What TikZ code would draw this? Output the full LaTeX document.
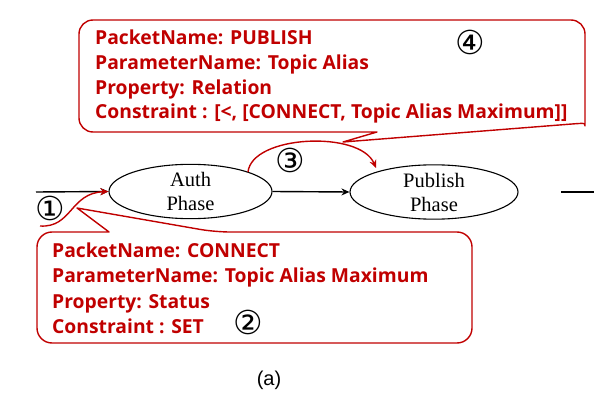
\documentclass[tikz,border=0pt]{standalone}
\usepackage{fontspec}
\setmainfont{Liberation Serif}
\newfontfamily\callfont{Open Sans}
\newfontfamily\circfont{DejaVu Sans}
\newfontfamily\capfont{Liberation Sans}
\usetikzlibrary{arrows.meta,shapes.geometric}
\definecolor{dred}{RGB}{192,0,0}
\begin{document}
\begin{tikzpicture}[x=1pt,y=-1pt,
  phase/.style={draw=black,line width=1.1pt,ellipse,minimum width=163pt,minimum height=53pt,inner sep=0pt,align=center,font=\fontsize{20.5}{24}\selectfont},
  ctext/.style={anchor=base west,inner sep=0pt,text=dred,font=\callfont\bfseries\fontsize{19.3}{22}\selectfont},
  circ/.style={inner sep=0pt,font=\circfont\fontsize{33}{33}\selectfont},
  callout/.style={draw=dred,line width=1.4pt,line join=round},
  redarrow/.style={draw=dred,line width=1.4pt,-{Stealth[length=8pt,width=7pt]}},
  blkarrow/.style={draw=black,line width=1.4pt,-{Stealth[length=8pt,width=7pt]}}
]
\useasboundingbox (0,0) rectangle (594,406);
% phases
\node[phase] (auth) at (190.5,191.5) {Auth\\Phase};
\node[phase,minimum width=168pt,minimum height=52pt] (pub) at (434,192) {Publish\\Phase};
\coordinate (lin) at (36,192);
\coordinate (rs) at (561,192);
\coordinate (re) at (594,192);
\draw[blkarrow] (lin) -- (auth.west);
\draw[blkarrow] (auth.east) -- (pub.west);
\draw[draw=black,line width=1.4pt] (rs) -- (re);
% top callout
\coordinate (ttip) at (343,142);
\draw[callout] (ttip) -- (377,132) [rounded corners=14pt] -- (79,132) -- (79,20) -- (585,20) -- (585,112) [sharp corners] .. controls (585,123) .. (572,124) -- cycle;
\node[ctext] (t1) at (95,45) {PacketName: PUBLISH};
\node[ctext] (t2) at (95,70) {ParameterName: Topic Alias};
\node[ctext] (t3) at (95,94.5) {Property: Relation};
\node[ctext] (t4) at (95,119) {Constraint : [<, [CONNECT, Topic Alias Maximum]]};
% bottom callout
\coordinate (btip) at (77,208);
\draw[callout] (btip) -- (109,232) [rounded corners=15pt] -- (37,232) -- (37,343) -- (472,343) -- (472,232) -- (215,232) [sharp corners] -- cycle;
\node[ctext] (b1) at (52,257) {PacketName: CONNECT};
\node[ctext] (b2) at (52,282.5) {ParameterName: Topic Alias Maximum};
\node[ctext] (b3) at (52,308) {Property: Status};
\node[ctext] (b4) at (52,333) {Constraint : SET};
% red curves
\coordinate (c1) at (40,226);
\draw[redarrow] (c1) .. controls (72,228) and (70,193) .. (auth.west);
\coordinate (a3s) at (248,172);
\coordinate (a3e) at (376,168);
\draw[redarrow] (a3s) .. controls (252,135) and (360,130) .. (a3e);
% circled numbers
\node[circ] (n1) at (50,208) {①};
\node[circ] (n2) at (248,322) {②};
\node[circ] (n3) at (290,160) {③};
\node[circ] (n4) at (470,42) {④};
% caption
\node[inner sep=0pt,font=\capfont\fontsize{20}{22}\selectfont] (cap) at (269,380) {(a)};
\end{tikzpicture}
\end{document}
